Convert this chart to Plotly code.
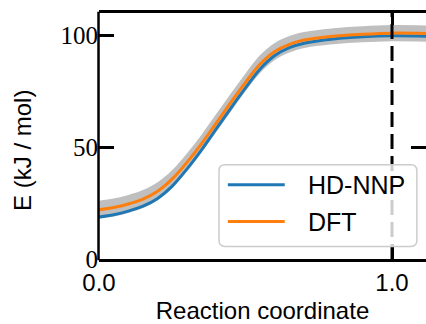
import plotly.graph_objects as go

# Reaction coordinate grid and energies (kJ/mol)
coord = [0.00, 0.05, 0.10, 0.15, 0.20, 0.25, 0.30, 0.35, 0.40, 0.45,
         0.50, 0.55, 0.60, 0.65, 0.70, 0.80, 0.90, 1.00, 1.116]
e_dft = [22.0, 23.0, 24.6, 26.8, 30.3, 35.8, 43.2, 51.6, 60.8, 70.0,
         79.0, 87.2, 92.8, 96.0, 97.9, 99.6, 100.5, 101.0, 100.8]
e_nnp = [18.8, 19.8, 21.4, 23.6, 27.1, 32.6, 40.2, 48.8, 58.2, 67.5,
         76.5, 85.0, 91.0, 94.5, 96.5, 98.4, 99.4, 99.8, 99.6]
e_err = [4.0, 4.0, 4.0, 4.0, 4.0, 4.0, 4.0, 4.0, 4.0, 4.0,
         4.0, 4.0, 3.8, 3.7, 3.6, 3.6, 3.6, 3.6, 3.6]

x_ticks = [0.0, 1.0]
x_ticklabels = ["0.0", "1.0"]
y_ticks = [0, 50, 100]
y_ticklabels = ["0", "50", "100"]
ts_coord = 1.0

series_names = ["HD-NNP", "DFT"]
BLUE = "#1f77b4"
ORANGE = "#ff7f0e"
SANS = "Liberation Sans"
SERIF = "Liberation Serif"

upper = [e + s for e, s in zip(e_dft, e_err)]
lower = [e - s for e, s in zip(e_dft, e_err)]

fig = go.Figure()
fig.add_trace(go.Scatter(x=coord, y=upper, mode="lines", line=dict(width=0, shape="spline"),
                         showlegend=False, hoverinfo="skip"))
fig.add_trace(go.Scatter(x=coord, y=lower, mode="lines", line=dict(width=0, shape="spline"),
                         fill="tonexty", fillcolor="rgba(191,191,191,1)",
                         showlegend=False, hoverinfo="skip"))
fig.add_trace(go.Scatter(x=coord, y=e_nnp, mode="lines", name=series_names[0],
                         line=dict(color=BLUE, width=3, shape="spline"), showlegend=False))
fig.add_trace(go.Scatter(x=coord, y=e_dft, mode="lines", name=series_names[1],
                         line=dict(color=ORANGE, width=3, shape="spline"), showlegend=False))

# transition-state marker
fig.add_shape(type="line", xref="x", yref="paper", x0=ts_coord, x1=ts_coord, y0=0, y1=1,
              line=dict(color="black", width=3, dash="15px,7px"), layer="above")

# left spine (the right one lies past the canvas edge)
fig.add_shape(type="line", xref="paper", yref="paper", x0=-0.0015, x1=-0.0015,
              y0=-0.005, y1=1.005, line=dict(color="black", width=2.5), layer="above")

# legend drawn as a rounded box with line samples
bx0, bx1, by0, by1, r = 0.367, 0.972, 0.051, 0.383, 0.018
ry = r * 327 / 246.5
path = (f"M {bx0 + r},{by0} L {bx1 - r},{by0} Q {bx1},{by0} {bx1},{by0 + ry} "
        f"L {bx1},{by1 - ry} Q {bx1},{by1} {bx1 - r},{by1} "
        f"L {bx0 + r},{by1} Q {bx0},{by1} {bx0},{by1 - ry} "
        f"L {bx0},{by0 + ry} Q {bx0},{by0} {bx0 + r},{by0} Z")
fig.add_shape(type="path", xref="paper", yref="paper", path=path,
              fillcolor="rgba(255,255,255,0.8)", line=dict(color="#cccccc", width=1.5),
              layer="above")
for name, color, ypos in [(series_names[0], BLUE, 0.302), (series_names[1], ORANGE, 0.152)]:
    fig.add_shape(type="line", xref="paper", yref="paper", x0=0.394, x1=0.568,
                  y0=ypos, y1=ypos, line=dict(color=color, width=3), layer="above")
    fig.add_annotation(xref="paper", yref="paper", x=0.632, y=ypos, text=name,
                       showarrow=False, xanchor="left", yanchor="middle",
                       font=dict(family=SANS, size=25, color="black"))

# y-axis label
fig.add_annotation(xref="paper", yref="paper", x=-0.232, y=0.44, text="E (kJ / mol)",
                   textangle=-90, showarrow=False, xanchor="center", yanchor="middle",
                   font=dict(family=SANS, size=24, color="black"))

tick_common = dict(ticks="inside", ticklen=15, tickwidth=2.5, tickcolor="black",
                   showgrid=False, zeroline=False, layer="below traces")

fig.update_xaxes(range=[0, 1.116], tickvals=x_ticks, ticktext=x_ticklabels,
                 showline=True, linecolor="black", linewidth=2.5, mirror="ticks",
                 tickfont=dict(family=SANS, size=24, color="black"),
                 title=dict(text="Reaction coordinate", standoff=8,
                            font=dict(family=SANS, size=24, color="black")),
                 **tick_common)
fig.update_yaxes(range=[0, 110], tickvals=y_ticks, ticktext=y_ticklabels,
                 showline=False, mirror="ticks",
                 tickfont=dict(family=SERIF, size=25, color="black"),
                 **tick_common)

fig.update_layout(width=426, height=324, margin=dict(l=99, r=0, t=13, b=64.5),
                  plot_bgcolor="white", paper_bgcolor="white", showlegend=False)

fig.write_html("out.html")
